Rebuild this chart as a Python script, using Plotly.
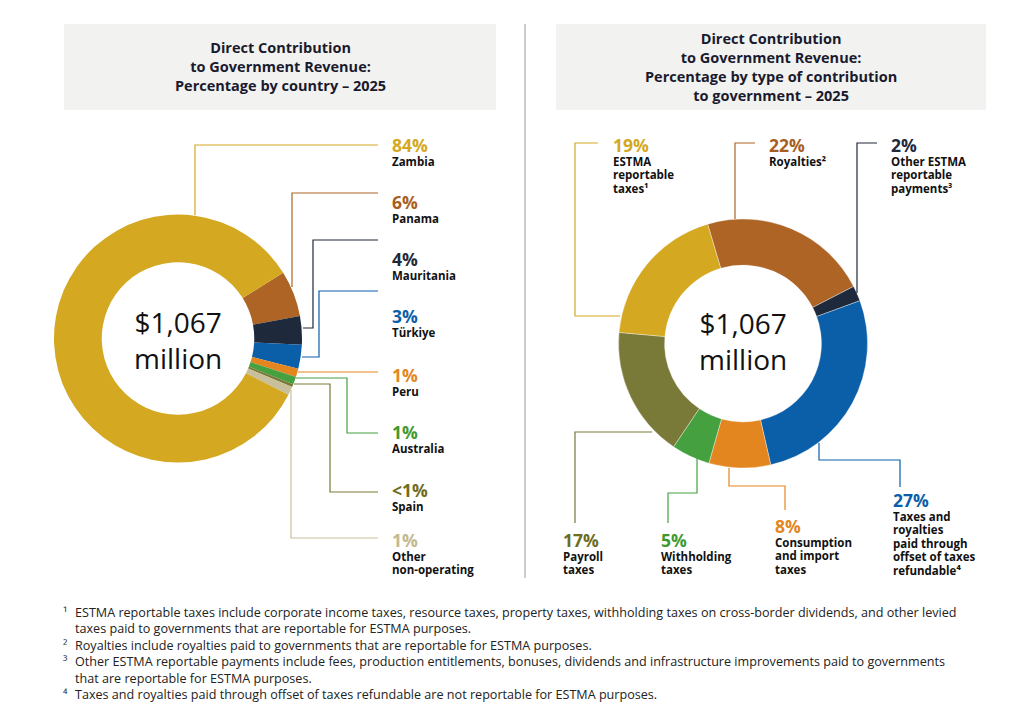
import plotly.graph_objects as go

W, H = 1015, 715
OFF = 8  # the page body margin shifts the figure by 8px

# ---- data ----
country_names = ["Panama", "Mauritania", "Türkiye", "Peru", "Australia", "Spain", "Other non-operating", "Zambia"]
country_values = [6.0, 3.7, 3.1, 1.1, 1.0, 0.4, 1.1, 83.6]
country_labels = ["6%", "4%", "3%", "1%", "1%", "<1%", "1%", "84%"]

type_names = ["Royalties", "Other ESTMA reportable payments", "Taxes and royalties paid through offset of taxes refundable",
              "Consumption and import taxes", "Withholding taxes", "Payroll taxes", "ESTMA reportable taxes"]
type_values = [22, 2, 27, 8, 5, 17, 19]
type_labels = ["22%", "2%", "27%", "8%", "5%", "17%", "19%"]

total_label = "$1,067<br>million"

footnote_marks = ["¹", "\u00a0", "²", "³", "\u00a0", "⁴"]
footnote_lines = [
    "ESTMA reportable taxes include corporate income taxes, resource taxes, property taxes, withholding taxes on cross-border dividends, and other levied",
    "taxes paid to governments that are reportable for ESTMA purposes.",
    "Royalties include royalties paid to governments that are reportable for ESTMA purposes.",
    "Other ESTMA reportable payments include fees, production entitlements, bonuses, dividends and infrastructure improvements paid to governments",
    "that are reportable for ESTMA purposes.",
    "Taxes and royalties paid through offset of taxes refundable are not reportable for ESTMA purposes.",
]

# ---- styles ----
GOLD, BROWN, NAVY, BLUE = "#D4A820", "#AD6424", "#1E293B", "#0B5EA8"
ORANGE, GREEN, OLIVE, BEIGE = "#E3861F", "#45A040", "#7A7A38", "#C8C09A"
country_colors = [BROWN, NAVY, BLUE, ORANGE, GREEN, OLIVE, BEIGE, GOLD]
type_colors = [BROWN, NAVY, BLUE, ORANGE, GREEN, OLIVE, GOLD]
label_colors_country = ["#A85E1E", NAVY, BLUE, ORANGE, "#3E9A2E", "#6E6C1E", "#C2B98E", "#D4A820"]
label_colors_type = ["#A85E1E", NAVY, BLUE, ORANGE, "#3E9A2E", "#6E6C1E", "#D4A820"]

FONT = "Open Sans"
TXT = "#111111"


def px(x):
    return (x - OFF) / W


def py(y):
    return 1 - (y - OFF) / H


def dom(cx, cy, r):
    return dict(x=[px(cx - r), px(cx + r)], y=[py(cy + r), py(cy - r)])


fig = go.Figure()

fig.add_trace(go.Pie(
    values=country_values, labels=country_names, sort=False, direction="clockwise",
    rotation=58, hole=0.615, domain=dom(178, 338.5, 124),
    marker=dict(colors=country_colors, line=dict(width=0)),
    textinfo="none", hoverinfo="label+percent", showlegend=False,
))
fig.add_trace(go.Pie(
    values=type_values, labels=type_names, sort=False, direction="clockwise",
    rotation=-16.5, hole=0.63, domain=dom(743, 343.5, 124.5),
    marker=dict(colors=type_colors, line=dict(width=0.6, color="rgba(255,255,255,0.6)")),
    textinfo="none", hoverinfo="label+percent", showlegend=False,
))

shapes = []
annotations = []

# header boxes and divider
for x0, x1 in [(64, 496), (556, 986)]:
    shapes.append(dict(type="rect", xref="paper", yref="paper", x0=px(x0), x1=px(x1), y0=py(110), y1=py(24),
                       fillcolor="#F2F2F0", line=dict(width=0), layer="below"))
shapes.append(dict(type="line", xref="paper", yref="paper", x0=px(525), x1=px(525), y0=py(24), y1=py(578),
                   line=dict(color="#9A9A9A", width=1)))

annotations.append(dict(x=px(280), y=py(67), xref="paper", yref="paper", showarrow=False,
                        xanchor="center", yanchor="middle",
                        text="<b>Direct Contribution<br>to Government Revenue:<br>Percentage by country – 2025</b>",
                        font=dict(family=FONT, size=14.5, color="#1A1A2E"), align="center"))
annotations.append(dict(x=px(771), y=py(67), xref="paper", yref="paper", showarrow=False,
                        xanchor="center", yanchor="middle",
                        text="<b>Direct Contribution<br>to Government Revenue:<br>Percentage by type of contribution<br>to government – 2025</b>",
                        font=dict(family=FONT, size=14.5, color="#1A1A2E"), align="center"))

# centre totals
for cx, cy in [(178, 340), (743, 341)]:
    annotations.append(dict(x=px(cx), y=py(cy), xref="paper", yref="paper", showarrow=False,
                            xanchor="center", yanchor="middle",
                            text=total_label, font=dict(family=FONT, size=28, color="#111111"),
                            align="center"))

# leader lines (pixel polylines) and label anchor (x, y of percent text)
country_leaders = [
    [(292, 287), (292, 193), (378, 193)],
    [(303, 328), (313, 328), (313, 240), (378, 240)],
    [(302, 357), (319, 357), (319, 291), (378, 291)],
    [(298, 372), (378, 372)],
    [(296, 378), (347, 378), (347, 433), (378, 433)],
    [(294, 384), (330, 384), (330, 492), (378, 492)],
    [(291, 390), (291, 538), (378, 538)],
    [(195, 215), (195, 145), (378, 145)],
]
country_text_pos = [(390, 202), (390, 259), (390, 316), (390, 375), (390, 432), (390, 490), (390, 540), (390, 145)]
country_text = ["Panama", "Mauritania", "Türkiye", "Peru", "Australia", "Spain", "Other<br>non-operating", "Zambia"]

type_leaders = [
    [(735, 219), (735, 143), (755, 143)],
    [(857, 293), (857, 143), (877, 143)],
    [(819, 443), (819, 460), (900, 460), (900, 487)],
    [(729, 468), (729, 486), (785, 486), (785, 510)],
    [(697, 458), (697, 493), (668, 493), (668, 523)],
    [(652, 432), (575, 432), (575, 523)],
    [(620, 316), (575, 316), (575, 143), (598, 143)],
]
type_text_pos = [(767, 145), (889, 145), (891, 500), (773, 526), (659, 540), (561, 540), (611, 145)]
type_text = ["Royalties²", "Other ESTMA<br>reportable<br>payments³", "Taxes and<br>royalties<br>paid through<br>offset of taxes<br>refundable⁴",
             "Consumption<br>and import<br>taxes", "Withholding<br>taxes", "Payroll<br>taxes", "ESTMA<br>reportable<br>taxes¹"]


def add_leader(points, color):
    d = "M " + " L ".join(f"{px(x):.5f},{py(y):.5f}" for x, y in points)
    shapes.append(dict(type="path", xref="paper", yref="paper", path=d,
                       line=dict(color=color, width=1.2)))


def add_label(pos, pct, name, color):
    x, y = pos
    annotations.append(dict(x=px(x), y=py(y), xref="paper", yref="paper", showarrow=False,
                            xanchor="left", yanchor="middle", text=f"<b>{pct}</b>",
                            font=dict(family=FONT, size=17.5, color=color)))
    # names: tighter line spacing than the default for 11.5px text
    names = "<br>".join(f"<span style='font-size:11.5px'><b>{part}</b></span>" for part in name.split("<br>"))
    annotations.append(dict(x=px(x), y=py(y + 7), xref="paper", yref="paper", showarrow=False,
                            xanchor="left", yanchor="top", align="left", text=names,
                            font=dict(family=FONT, size=10.3, color=TXT)))


for pts, c, pos, lab, name, lc in zip(country_leaders, country_colors, country_text_pos, country_labels,
                                      country_text, label_colors_country):
    add_leader(pts, c)
    add_label(pos, lab, name, lc)

for pts, c, pos, lab, name, lc in zip(type_leaders, type_colors, type_text_pos, type_labels,
                                      type_text, label_colors_type):
    add_leader(pts, c)
    add_label(pos, lab, name, lc)

# footnotes
annotations.append(dict(x=px(61), y=py(602), xref="paper", yref="paper", showarrow=False,
                        xanchor="left", yanchor="top", align="left", text="<br>".join(footnote_marks),
                        font=dict(family=FONT, size=12.6, color="#333333")))
annotations.append(dict(x=px(73), y=py(602), xref="paper", yref="paper", showarrow=False,
                        xanchor="left", yanchor="top", align="left", text="<br>".join(footnote_lines),
                        font=dict(family=FONT, size=12.6, color="#222222")))

fig.update_layout(
    width=W, height=H,
    margin=dict(l=0, r=0, t=0, b=0),
    paper_bgcolor="white", plot_bgcolor="white",
    shapes=shapes, annotations=annotations,
    showlegend=False,
)

fig.write_html("out.html")
